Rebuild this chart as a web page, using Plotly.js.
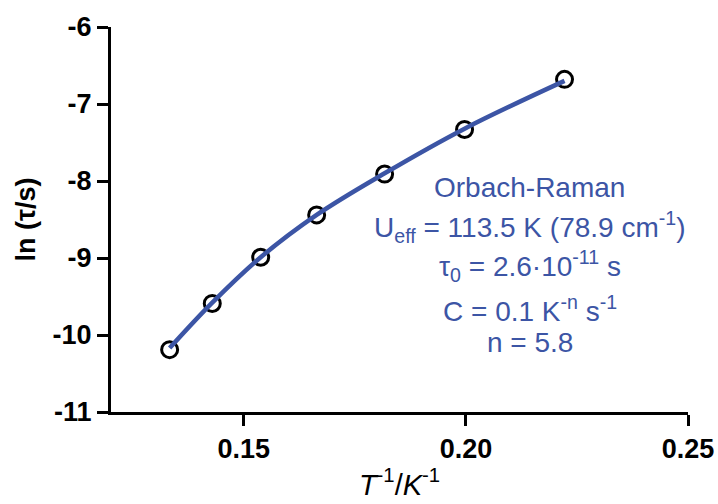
<!DOCTYPE html>
<html>
<head>
<meta charset="utf-8">
<script src="https://cdn.plot.ly/plotly-3.0.1.min.js"></script>
<style>html,body{margin:0;padding:0;background:#fff;}#chart{width:718px;height:504px;}</style>
</head>
<body>
<div id="chart"></div>
<script>
// Data
const invT = [0.1333, 0.1429, 0.1538, 0.1664, 0.1817, 0.1997, 0.2222];
const lnTau = [-10.19, -9.59, -8.99, -8.44, -7.91, -7.33, -6.68];
// Fit curve (Orbach-Raman)
const fitX = [0.1333, 0.1429, 0.1538, 0.1664, 0.1817, 0.1997, 0.2222];
const fitY = [-10.17, -9.58, -8.99, -8.44, -7.90, -7.32, -6.70];
const xTickVals = [0.15, 0.20, 0.25];
const xTickText = ['0.15', '0.20', '0.25'];
const yTickVals = [-11, -10, -9, -8, -7, -6];
const yTickText = ['-11', '-10', '-9', '-8', '-7', '-6'];
const fitLabel = [
  'Orbach-Raman',
  'U<sub>eff</sub> = 113.5 K (78.9 cm<sup>-1</sup>)',
  'τ<sub>0</sub> = 2.6·10<sup>-11</sup> s',
  'C = 0.1 K<sup>-n</sup> s<sup>-1</sup>',
  'n = 5.8'
];
const labelY = [-8.09, -8.60, -9.10, -9.66, -10.10];

const blue = '#3c55a5';
const font = 'Arial, "Liberation Sans", Helvetica, sans-serif';

const traces = [
  {
    x: invT, y: lnTau, type: 'scatter', mode: 'markers',
    marker: {symbol: 'circle-open', size: 16, color: '#000', line: {width: 3, color: '#000'}},
    hoverinfo: 'skip', cliponaxis: false
  },
  {
    x: fitX, y: fitY, type: 'scatter', mode: 'lines',
    line: {color: blue, width: 4.5, shape: 'spline', smoothing: 1},
    hoverinfo: 'skip', cliponaxis: false
  }
];

const annotations = fitLabel.map((t, i) => ({
  x: 0.2144, y: labelY[i], xref: 'x', yref: 'y',
  text: t, showarrow: false, xanchor: 'center', yanchor: 'middle',
  font: {family: font, size: 28, color: blue}
}));

const layout = {
  width: 718, height: 504,
  margin: {l: 111, r: 30, t: 27, b: 92, pad: 0},
  paper_bgcolor: '#fff', plot_bgcolor: '#fff',
  showlegend: false,
  font: {family: font, color: '#000'},
  xaxis: {
    range: [0.1201, 0.25], tickmode: 'array', tickvals: xTickVals, ticktext: xTickText,
    showgrid: false, zeroline: false, showline: true, linecolor: '#000', linewidth: 3,
    ticks: 'outside', ticklen: 11, tickwidth: 3, tickcolor: '#000',
    tickfont: {family: font, size: 27, color: '#000', weight: 'bold'},
    title: {text: '<i>T</i><sup>-1</sup>/<i>K</i><sup>-1</sup>', font: {family: font, size: 29, color: '#000'}, standoff: 9},
    automargin: false
  },
  yaxis: {
    range: [-11, -6], tickmode: 'array', tickvals: yTickVals, ticktext: yTickText,
    showgrid: false, zeroline: false, showline: true, linecolor: '#000', linewidth: 3,
    ticks: 'outside', ticklen: 11, tickwidth: 3, tickcolor: '#000',
    tickfont: {family: font, size: 27, color: '#000', weight: 'bold'},
    title: {text: 'ln (τ/s)', font: {family: font, size: 27, color: '#000', weight: 'bold'}, standoff: 10},
    automargin: false
  },
  annotations: annotations
};

Plotly.newPlot('chart', traces, layout, {displayModeBar: false, staticPlot: true});
</script>
</body>
</html>
